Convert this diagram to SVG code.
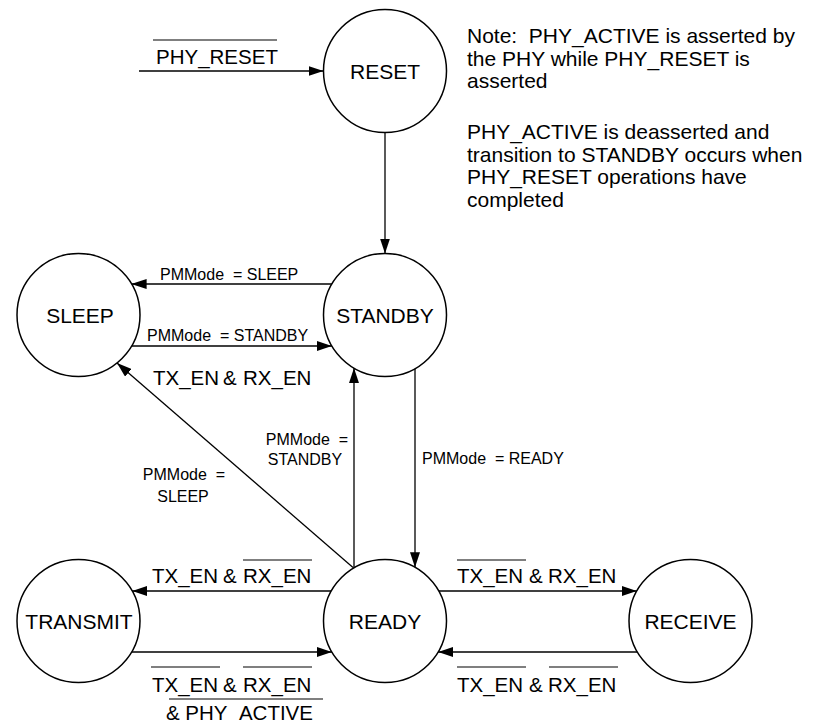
<svg xmlns="http://www.w3.org/2000/svg" width="823" height="723" viewBox="0 0 823 723">
<style>
.node circle{fill:#fff;stroke:#000;stroke-width:1.5}
.lbl{font-family:"Liberation Sans",Arial,sans-serif;font-size:21px;fill:#000;text-anchor:middle}
.t{font-family:"Liberation Sans",Arial,sans-serif;font-size:20.5px;fill:#000}
.s{font-family:"Liberation Sans",Arial,sans-serif;font-size:16px;fill:#000}
.note{font-family:"Liberation Sans",Arial,sans-serif;font-size:21px;fill:#000}
.c line{stroke:#000;stroke-width:1.3;fill:none}
.c .arr{marker-end:url(#ah)}
.ob{stroke:#000;stroke-width:1.2}
</style>
<defs>
<marker id="ah" markerUnits="userSpaceOnUse" markerWidth="15" markerHeight="10" refX="15" refY="5" orient="auto" viewBox="0 0 15 10">
<path d="M0,0 L15,5 L0,10 z" fill="#000"/>
</marker>
</defs>
<rect width="823" height="723" fill="#fff"/>

<g id="connectors" class="c">
<line class="arr" x1="139" y1="71" x2="323.5" y2="71"/>
<line class="arr" x1="385" y1="132.5" x2="385" y2="253.5"/>
<line class="arr" x1="331.9" y1="284" x2="131.6" y2="284"/>
<line class="arr" x1="131.6" y1="346" x2="331.9" y2="346"/>
<line class="arr" x1="353" y1="567.5" x2="117" y2="363"/>
<line class="arr" x1="354" y1="567.9" x2="354" y2="368.1"/>
<line class="arr" x1="415" y1="368.7" x2="415" y2="567.3"/>
<line class="arr" x1="331.3" y1="591" x2="132.2" y2="591"/>
<line class="arr" x1="131.6" y1="652" x2="331.9" y2="652"/>
<line class="arr" x1="438.7" y1="591" x2="636.8" y2="591"/>
<line class="arr" x1="637.4" y1="652" x2="438.1" y2="652"/>
</g>

<g id="labels">
<text class="t" x="156" y="64">PHY_RESET</text>
<line class="ob" x1="153" y1="40" x2="277" y2="40"/>

<text class="s" x="160" y="280" xml:space="preserve">PMMode  = SLEEP</text>
<text class="s" x="147" y="341" xml:space="preserve">PMMode  = STANDBY</text>
<text class="t" x="153" y="385">TX_EN</text><text class="t" x="223" y="385">&amp;</text><text class="t" x="243" y="385">RX_EN</text>

<text class="s" x="307" y="445" text-anchor="middle" xml:space="preserve">PMMode  =</text>
<text class="s" x="305" y="465" text-anchor="middle">STANDBY</text>
<text class="s" x="184" y="480" text-anchor="middle" xml:space="preserve">PMMode  =</text>
<text class="s" x="183" y="502" text-anchor="middle">SLEEP</text>
<text class="s" x="422" y="464" xml:space="preserve">PMMode  = READY</text>

<text class="t" x="152" y="583">TX_EN</text><text class="t" x="223" y="583">&amp;</text><text class="t" x="243" y="583">RX_EN</text>
<line class="ob" x1="243" y1="560" x2="312" y2="560"/>

<text class="t" x="152" y="692">TX_EN</text><text class="t" x="223" y="692">&amp;</text><text class="t" x="243" y="692">RX_EN</text>
<line class="ob" x1="151" y1="667" x2="220" y2="667"/>
<line class="ob" x1="243" y1="667" x2="312" y2="667"/>
<text class="t" x="166" y="720">&amp; PHY_ACTIVE</text>
<line class="ob" x1="169" y1="699" x2="323" y2="699"/>

<text class="t" x="457" y="583">TX_EN</text><text class="t" x="529" y="583">&amp;</text><text class="t" x="548" y="583">RX_EN</text>
<line class="ob" x1="457" y1="560" x2="526" y2="560"/>

<text class="t" x="457" y="692">TX_EN</text><text class="t" x="529" y="692">&amp;</text><text class="t" x="548" y="692">RX_EN</text>
<line class="ob" x1="457" y1="667" x2="526" y2="667"/>
<line class="ob" x1="549" y1="667" x2="618" y2="667"/>
</g>

<g id="note">
<text class="note" x="467" y="43" xml:space="preserve">Note:  PHY_ACTIVE is asserted by</text>
<text class="note" x="467" y="65.5">the PHY while PHY_RESET is</text>
<text class="note" x="467" y="88">asserted</text>
<text class="note" x="467" y="139">PHY_ACTIVE is deasserted and</text>
<text class="note" x="467" y="161.5">transition to STANDBY occurs when</text>
<text class="note" x="467" y="184">PHY_RESET operations have</text>
<text class="note" x="467" y="206.5">completed</text>
</g>

<g id="RESET" class="node"><circle cx="385" cy="71" r="61.5"/><text class="lbl" x="385" y="79">RESET</text></g>
<g id="STANDBY" class="node"><circle cx="385" cy="315" r="61.5"/><text class="lbl" x="385" y="323">STANDBY</text></g>
<g id="SLEEP" class="node"><circle cx="78.5" cy="315" r="61.5"/><text class="lbl" x="80" y="323">SLEEP</text></g>
<g id="TRANSMIT" class="node"><circle cx="78.5" cy="621" r="61.5"/><text class="lbl" x="79" y="628.5">TRANSMIT</text></g>
<g id="READY" class="node"><circle cx="385" cy="621" r="61.5"/><text class="lbl" x="385" y="628.5">READY</text></g>
<g id="RECEIVE" class="node"><circle cx="690.5" cy="621" r="61.5"/><text class="lbl" x="690.5" y="628.5">RECEIVE</text></g>
</svg>
